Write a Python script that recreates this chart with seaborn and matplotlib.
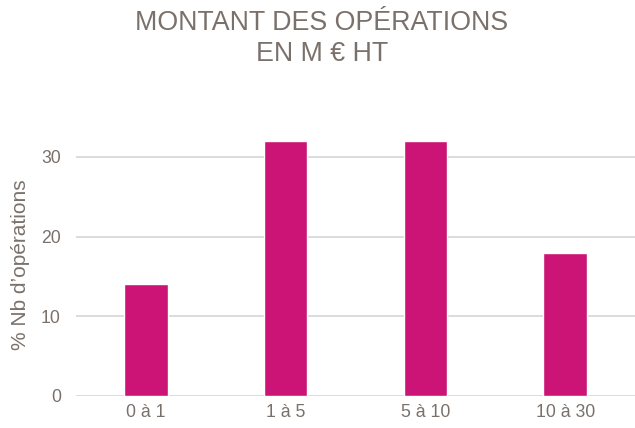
import matplotlib
matplotlib.use("Agg")
import matplotlib.pyplot as plt
import seaborn as sns
import pandas as pd

# categories and values
tranches = ["0 à 1", "1 à 5", "5 à 10", "10 à 30"]
pourcentages = [14, 32, 32, 18]

df = pd.DataFrame({"Tranche": tranches, "Pct": pourcentages})

sns.set_theme(style="white")
plt.rcParams['font.family'] = ['Liberation Sans', 'DejaVu Sans']

gris = "#7b716b"

fig = plt.figure(figsize=(6.35, 4.28), dpi=100)
ax = fig.add_axes([0.12, 0.075, 0.88, 0.614])

sns.barplot(data=df, x="Tranche", y="Pct", color="#cc1477", width=0.31,
            saturation=1, ax=ax, zorder=3)

ax.set_ylim(0, 33)
ax.set_yticks([0, 10, 20, 30])
ax.grid(axis="y", color="#d9d9d9", linewidth=1.3, zorder=0)
ax.set_axisbelow(True)
sns.despine(ax=ax, left=True, bottom=True)

ax.set_xlabel("")
ax.set_ylabel("% Nb d’opérations", color=gris, fontsize=15, labelpad=8)
ax.tick_params(axis="both", colors=gris, labelsize=12.7, length=0)
ax.tick_params(axis="x", pad=6)
ax.tick_params(axis="y", pad=11)

fig.text(0.507, 0.976, "MONTANT DES OPÉRATIONS\nEN M € HT", ha="center", va="top",
         fontsize=19.3, color=gris, linespacing=1.22)

fig.savefig("out.png", dpi=100)
